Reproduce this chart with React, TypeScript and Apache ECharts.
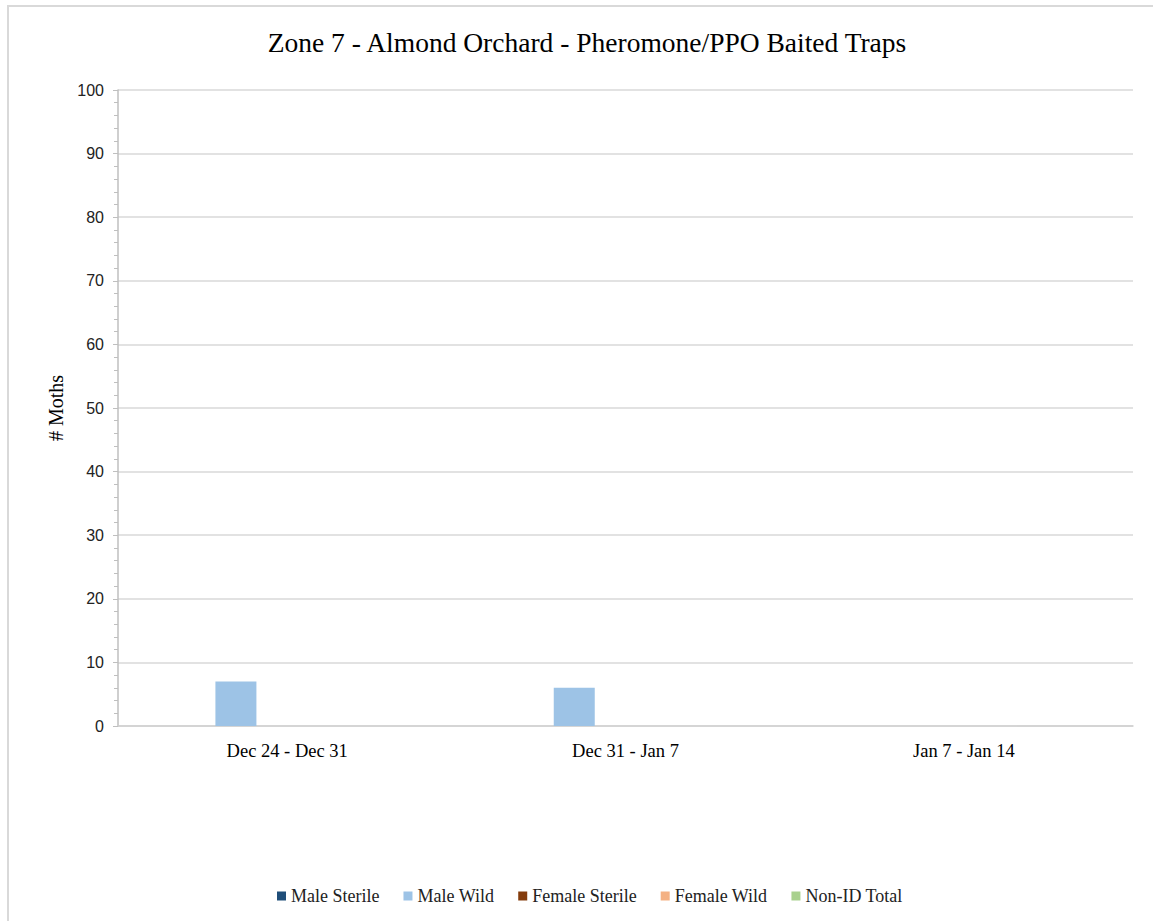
import React, { useEffect, useRef } from "react";
import * as echarts from "echarts";

const categories = ["Dec 24 - Dec 31", "Dec 31 - Jan 7", "Jan 7 - Jan 14"];
const seriesNames = ["Male Sterile", "Male Wild", "Female Sterile", "Female Wild", "Non-ID Total"];
const maleSterile = [0, 0, 0];
const maleWild = [7, 6, 0];
const femaleSterile = [0, 0, 0];
const femaleWild = [0, 0, 0];
const nonIdTotal = [0, 0, 0];
const colors = ["#1f4e79", "#9dc3e6", "#843c0c", "#f4b183", "#a9d18e"];

const SERIF = "'Liberation Serif', 'Times New Roman', serif";
const SANS = "'Liberation Sans', Arial, sans-serif";

export default function App() {
  const ref = useRef<HTMLDivElement>(null);
  useEffect(() => {
    if (!ref.current) return;
    const chart = echarts.init(ref.current, null, { renderer: "svg" });
    const values = [maleSterile, maleWild, femaleSterile, femaleWild, nonIdTotal];
    chart.setOption({
      animation: false,
      backgroundColor: "#ffffff",
      title: {
        text: "Zone 7 - Almond Orchard - Pheromone/PPO Baited Traps",
        left: 582,
        textAlign: "center",
        top: 23,
        textStyle: { fontFamily: SERIF, fontSize: 27.5, fontWeight: "normal", color: "#000" },
      },
      legend: {
        top: 882,
        left: 272,
        itemWidth: 9,
        itemHeight: 9,
        itemGap: 24,
        icon: "rect",
        textStyle: { fontFamily: SERIF, fontSize: 18, color: "#222" },
        data: seriesNames,
      },
      grid: { left: 118, right: 20, top: 90, bottom: 195, containLabel: false },
      xAxis: {
        type: "category",
        data: categories,
        axisLine: { lineStyle: { color: "#d0d0d0", width: 1.5 } },
        axisTick: { show: false },
        axisLabel: { fontFamily: SERIF, fontSize: 18.5, color: "#000", margin: 15 },
      },
      yAxis: {
        type: "value",
        min: 0,
        max: 100,
        interval: 10,
        name: "# Moths",
        nameLocation: "middle",
        nameGap: 49,
        nameTextStyle: { fontFamily: SERIF, fontSize: 20, color: "#000" },
        axisLine: { show: true, lineStyle: { color: "#bfbfbf", width: 1.5 } },
        axisTick: { show: true, length: 5, lineStyle: { color: "#bfbfbf" } },
        minorTick: { show: true, splitNumber: 5, length: 4, lineStyle: { color: "#bfbfbf" } },
        axisLabel: { fontFamily: SANS, fontSize: 16, color: "#222", margin: 14 },
        splitLine: { lineStyle: { color: "#d9d9d9", width: 1.5 } },
      },
      series: seriesNames.map((n, i) => ({
        name: n,
        type: "bar",
        data: values[i],
        barWidth: 41,
        barGap: "25%",
        itemStyle: { color: colors[i] },
      })),
      graphic: [
        { type: "line", shape: { x1: 7, y1: 6, x2: 1153, y2: 6 }, style: { stroke: "#d9d9d9", lineWidth: 2 } },
        { type: "line", shape: { x1: 8, y1: 5, x2: 8, y2: 921 }, style: { stroke: "#d9d9d9", lineWidth: 2 } },
      ],
    });
    return () => chart.dispose();
  }, []);
  return (
    <div
      ref={ref}
      style={{ position: "fixed", left: 0, top: 0, width: 1153, height: 921, background: "#fff" }}
    />
  );
}
